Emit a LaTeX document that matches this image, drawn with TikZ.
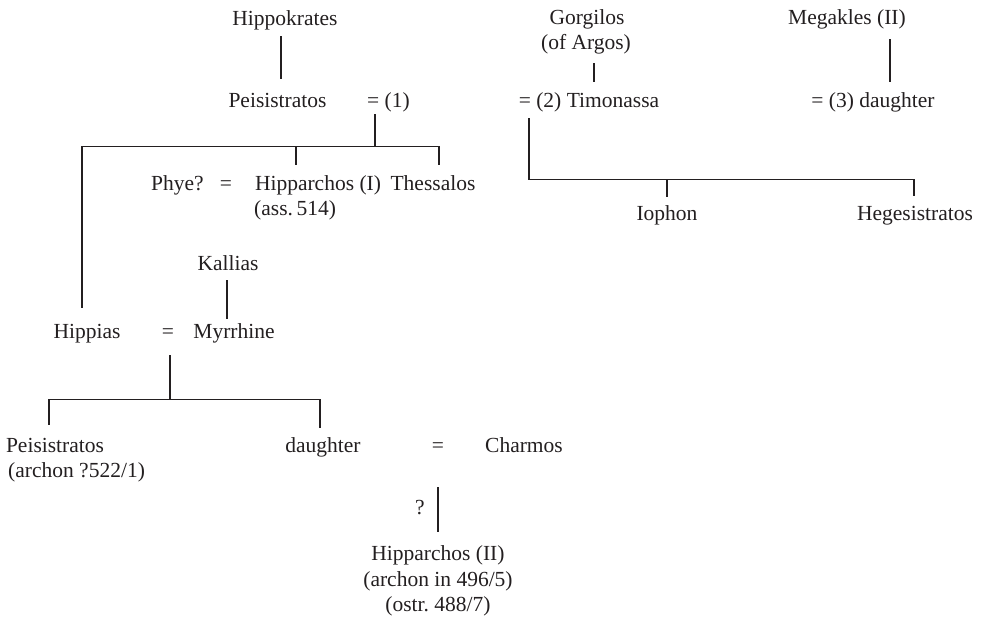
\documentclass[tikz,border=0pt]{standalone}
\usepackage{fontspec}
\setmainfont{Liberation Serif}
\definecolor{ink}{HTML}{231F20}
\begin{document}
\begin{tikzpicture}[x=1pt,y=-1pt,
  lbl/.style={anchor=base,inner sep=0pt,text height=15pt,text depth=5pt,
    font=\fontsize{21.5}{25.5}\selectfont,text=ink},
  lblw/.style={lbl,anchor=base west},
  conn/.style={draw=ink,line width=1.1pt}]
\useasboundingbox (0,0) rectangle (983,619);
% top row
\node[lbl] (hippokrates) at (285,25) {Hippokrates};
\node[lbl] (gorgilos) at (587,24) {Gorgilos};
\node[lbl] (ofargos) at (586,49) {(of Argos)};
\node[lbl] (megakles) at (847,24) {Megakles (II)};
% second row
\node[lbl] (peis1) at (277.5,107) {Peisistratos};
\node[lbl] (eq1) at (388.5,107) {= (1)};
\node[lbl] (timonassa) at (589,107) {= (2) Timonassa};
\node[lbl] (daughter3) at (873,107) {= (3) daughter};
% third row
\node[lbl] (phye) at (191.5,190) {Phye?\hspace{0.75em}=};
\node[lbl] (hipparchos1) at (318,190) {Hipparchos (I)};
\node[lblw] (ass) at (254,215) {(ass.\,514)};
\node[lbl] (thessalos) at (433,190) {Thessalos};
\node[lbl] (iophon) at (667,220) {Iophon};
\node[lbl] (hegesistratos) at (915,220) {Hegesistratos};
% Kallias / Hippias row
\node[lbl] (kallias) at (228,270) {Kallias};
\node[lbl] (hippias) at (87,338) {Hippias};
\node[lbl] (eqA) at (168,338) {=};
\node[lbl] (myrrhine) at (234,338) {Myrrhine};
% children of Hippias
\node[lbl] (peis2) at (55,452) {Peisistratos};
\node[lblw] (archon1) at (8,477) {(archon ?522/1)};
\node[lbl] (daughter) at (323,452) {daughter};
\node[lbl] (eqB) at (438,452) {=};
\node[lbl] (charmos) at (524,452) {Charmos};
\node[lbl] (qmark) at (420,514) {?};
\node[lbl] (hipparchos2) at (438,560) {Hipparchos (II)};
\node[lbl] (archon2) at (438,586) {(archon in 496/5)};
\node[lbl] (ostr) at (438,611) {(ostr.\ 488/7)};
% connectors
\draw[conn] ([shift={(-4,6)}]hippokrates.south) -- ++(0,43);
\coordinate (f1) at ([shift={(-13.5,34)}]eq1.south);
\draw[conn] ([shift={(-13.5,2)}]eq1.south) -- (f1);
\draw[conn] ([shift={(-5,-15)}]hippias.north) |- (f1);
\draw[conn] (f1) -| ([shift={(6,-10)}]thessalos.north);
\draw[conn] ([shift={(-22,-10)}]hipparchos1.north) -- ++(0,-19);
\draw[conn] ([shift={(8,9)}]ofargos.south) -- ++(0,19);
\draw[conn] ([shift={(43,10)}]megakles.south) -- ++(0,43);
\draw[conn] ([shift={(-60,6)}]timonassa.south) |- ([shift={(-1,-25)}]hegesistratos.north) -- ++(0,16);
\draw[conn] ([shift={(0,-8)}]iophon.north) -- ++(0,-17);
\draw[conn] ([shift={(-1,5)}]kallias.south) -- ++(0,39);
\coordinate (f2) at ([shift={(2,57)}]eqA.south);
\draw[conn] ([shift={(2,12)}]eqA.south) -- (f2);
\draw[conn] ([shift={(-6,-12)}]peis2.north) |- ([shift={(-3,-37)}]daughter.north) -- ++(0,28);
\draw[conn] ([shift={(0,-13)}]hipparchos2.north) -- ++(0,-45);
\end{tikzpicture}
\end{document}
